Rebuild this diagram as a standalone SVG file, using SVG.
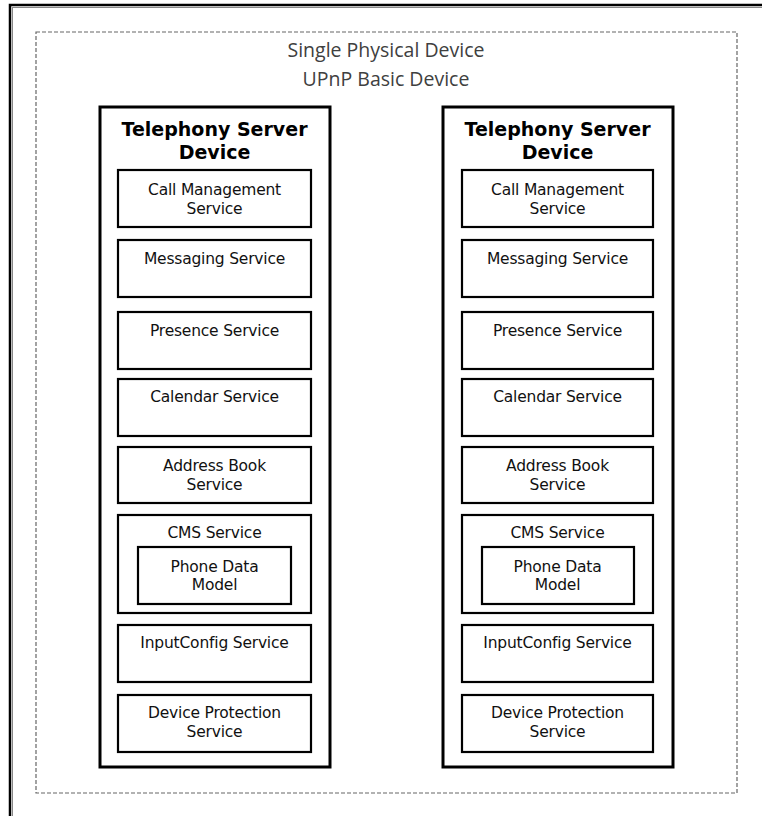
<svg xmlns="http://www.w3.org/2000/svg" width="762" height="816" viewBox="0 0 762 816">
<style>
.frame{fill:none;stroke:#000;stroke-width:2.5}
.frame2{fill:none;stroke:#888;stroke-width:1}
.dash{fill:none;stroke:#666;stroke-width:1.2;stroke-dasharray:4 2}
.dev{fill:#fff;stroke:#000;stroke-width:3}
.svc{fill:#fff;stroke:#000;stroke-width:2.2}
.title{font-family:"Open Sans","Liberation Sans",sans-serif;font-size:19.5px;fill:#404040;text-anchor:middle}
.dh{font-family:"DejaVu Sans",sans-serif;font-weight:bold;font-size:19px;fill:#000;text-anchor:middle}
.st{font-family:"DejaVu Sans",sans-serif;font-size:15.5px;fill:#111;text-anchor:middle;letter-spacing:-0.2px}
</style>
<rect width="762" height="816" fill="#fff"/>
<g id="frame">
<rect class="frame" x="10" y="5" width="800" height="900"/>
<rect class="frame2" x="12.5" y="7.5" width="800" height="900"/>
</g>
<g id="physical-device">
<rect class="dash" x="36" y="32" width="701" height="761"/>
<text class="title" x="386" y="57">Single Physical Device</text>
<text class="title" x="386" y="86">UPnP Basic Device</text>
</g>
<g id="left-device">
<rect class="dev" x="100" y="107" width="230" height="660"/>
<text class="dh" x="214.5" y="136">Telephony Server</text>
<text class="dh" x="214.5" y="159">Device</text>
<g id="l-call"><rect class="svc" x="118" y="170" width="193" height="57"/><text class="st" x="214.5" y="195">Call Management</text><text class="st" x="214.5" y="214">Service</text></g>
<g id="l-msg"><rect class="svc" x="118" y="240" width="193" height="57"/><text class="st" x="214.5" y="264">Messaging Service</text></g>
<g id="l-pres"><rect class="svc" x="118" y="312" width="193" height="57"/><text class="st" x="214.5" y="336">Presence Service</text></g>
<g id="l-cal"><rect class="svc" x="118" y="379" width="193" height="57"/><text class="st" x="214.5" y="402">Calendar Service</text></g>
<g id="l-addr"><rect class="svc" x="118" y="447" width="193" height="56"/><text class="st" x="214.5" y="471">Address Book</text><text class="st" x="214.5" y="490">Service</text></g>
<g id="l-cms"><rect class="svc" x="118" y="515" width="193" height="98"/><text class="st" x="214.5" y="538">CMS Service</text>
<g id="l-pdm"><rect class="svc" x="138" y="547" width="153" height="57"/><text class="st" x="214.5" y="572">Phone Data</text><text class="st" x="214.5" y="590">Model</text></g></g>
<g id="l-input"><rect class="svc" x="118" y="625" width="193" height="57"/><text class="st" x="214.5" y="648">InputConfig Service</text></g>
<g id="l-prot"><rect class="svc" x="118" y="695" width="193" height="57"/><text class="st" x="214.5" y="718">Device Protection</text><text class="st" x="214.5" y="737">Service</text></g>
</g>
<g id="right-device">
<rect class="dev" x="443" y="107" width="230" height="660"/>
<text class="dh" x="557.5" y="136">Telephony Server</text>
<text class="dh" x="557.5" y="159">Device</text>
<g id="r-call"><rect class="svc" x="462" y="170" width="191" height="57"/><text class="st" x="557.5" y="195">Call Management</text><text class="st" x="557.5" y="214">Service</text></g>
<g id="r-msg"><rect class="svc" x="462" y="240" width="191" height="57"/><text class="st" x="557.5" y="264">Messaging Service</text></g>
<g id="r-pres"><rect class="svc" x="462" y="312" width="191" height="57"/><text class="st" x="557.5" y="336">Presence Service</text></g>
<g id="r-cal"><rect class="svc" x="462" y="379" width="191" height="57"/><text class="st" x="557.5" y="402">Calendar Service</text></g>
<g id="r-addr"><rect class="svc" x="462" y="447" width="191" height="56"/><text class="st" x="557.5" y="471">Address Book</text><text class="st" x="557.5" y="490">Service</text></g>
<g id="r-cms"><rect class="svc" x="462" y="515" width="191" height="98"/><text class="st" x="557.5" y="538">CMS Service</text>
<g id="r-pdm"><rect class="svc" x="482" y="547" width="152" height="57"/><text class="st" x="557.5" y="572">Phone Data</text><text class="st" x="557.5" y="590">Model</text></g></g>
<g id="r-input"><rect class="svc" x="462" y="625" width="191" height="57"/><text class="st" x="557.5" y="648">InputConfig Service</text></g>
<g id="r-prot"><rect class="svc" x="462" y="695" width="191" height="57"/><text class="st" x="557.5" y="718">Device Protection</text><text class="st" x="557.5" y="737">Service</text></g>
</g>
<g id="connectors"></g>
</svg>
